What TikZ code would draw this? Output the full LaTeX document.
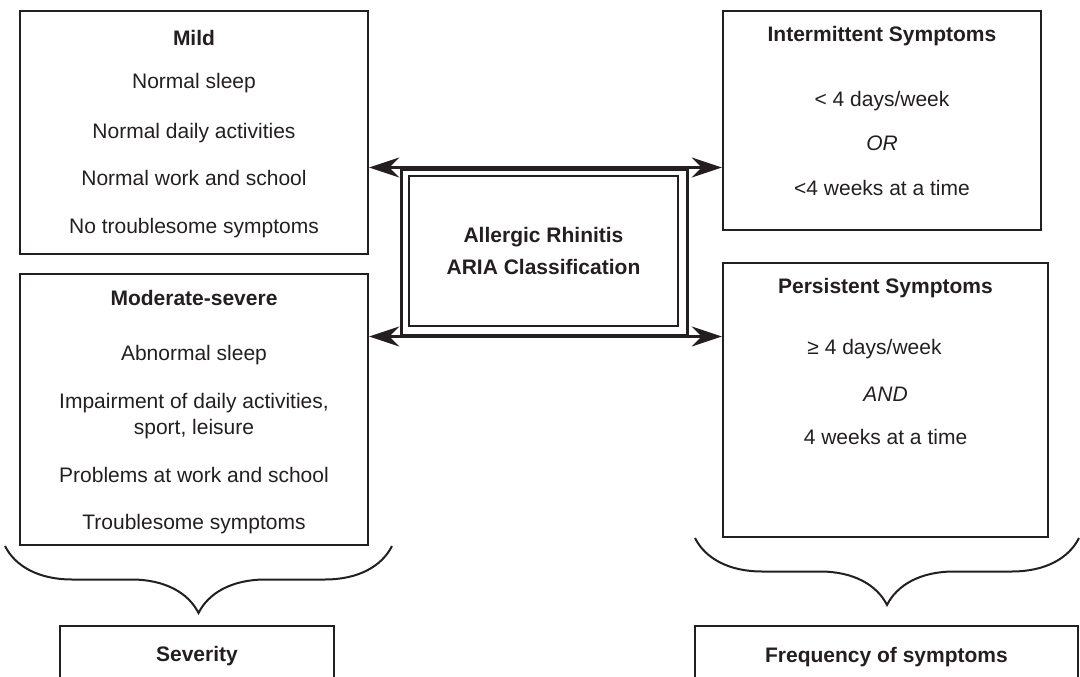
\documentclass[tikz,border=0pt]{standalone}
\usepackage{fontspec}
\setmainfont{Liberation Sans}
\usetikzlibrary{arrows.meta, positioning, decorations.pathreplacing}
\definecolor{ink}{RGB}{35,31,32}

\begin{document}
\begin{tikzpicture}[
        x=1pt, y=-1pt,
        box/.style={rectangle, draw=ink, line width=2.4pt, inner sep=0pt, text=ink, font=\fontsize{21}{26}\selectfont\bfseries},
        boxtext/.style={inner sep=0pt, align=center, text=ink, font=\fontsize{21}{26}\selectfont},
        biarrow/.style={draw=ink, line width=3pt, {Stealth[length=30pt, width=20pt]}-{Stealth[length=30pt, width=20pt]}},
        curly/.style={draw=ink, line width=2pt, decorate, decoration={brace, mirror, amplitude=67pt}}
    ]

        \useasboundingbox (0,0) rectangle (1080,677);

        % severity side
        \node[box, minimum width=348pt, minimum height=243pt] (mild) at (194,132.5) {};
        \node[box, minimum width=348pt, minimum height=271pt] (modsev) at (194,409.5) {};

        % frequency side
        \node[box, minimum width=318pt, minimum height=219pt] (inter) at (882,120.5) {};
        \node[box, minimum width=325pt, minimum height=274pt] (pers) at (885.5,400) {};

        % centre
        \node[box, line width=3pt, minimum width=286pt, minimum height=166pt] (aria) at (544,252) {};
        \node[box, line width=1.2pt, minimum width=269pt, minimum height=150pt, align=center] (ariain) at (543.5,251)
            {Allergic Rhinitis\\[6pt]ARIA Classification};

        \node[boxtext, below=20.5pt of mild.north] (mildtxt)
            {\textbf{Mild}\\[17pt]Normal sleep\\[24pt]Normal daily activities\\[21pt]Normal work and school\\[22pt]No troublesome symptoms};
        \node[boxtext, below=17.5pt of modsev.north] (modsevtxt)
            {\textbf{Moderate-severe}\\[29pt]Abnormal sleep\\[22pt]Impairment of daily activities,\\sport, leisure\\[22pt]Problems at work and school\\[21pt]Troublesome symptoms};
        \node[boxtext, below=16.5pt of inter.north] (intertxt)
            {\textbf{Intermittent Symptoms}\\[39pt]< 4 days/week\\[18pt]\textit{OR}\\[19pt]<4 weeks at a time};
        \node[boxtext, below=16.5pt of pers.north] (perstxt)
            {\textbf{Persistent Symptoms}\\[35pt]\hspace*{-22pt}≥ 4 days/week\\[21pt]\textit{AND}\\[17pt]4 weeks at a time};

        \draw[biarrow] (aria.north -| mild.east) -- (aria.north -| inter.west);
        \draw[biarrow] (aria.south -| modsev.east) -- (aria.south -| pers.west);

        % braces and the two headings
        \coordinate (sevl) at (5,546);
        \coordinate (sevr) at (392,546);
        \coordinate (freql) at (695,538);
        \coordinate (freqr) at (1079,538);
        \draw[curly] (sevl) -- (sevr);
        \draw[curly] (freql) -- (freqr);

        \node[box, minimum width=274pt, minimum height=60pt] (sev) at (197,656) {Severity};
        \node[box, minimum width=383pt, minimum height=62pt] (freq) at (886.5,657) {Frequency of symptoms};

    \end{tikzpicture}
\end{document}
